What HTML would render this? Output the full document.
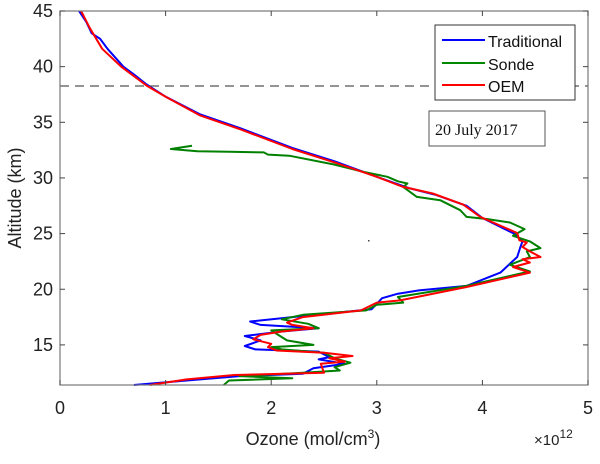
<!DOCTYPE html>
<html><head><meta charset="utf-8"><style>
body{margin:0;background:#fff;width:600px;height:459px;overflow:hidden}
svg text{font-family:"Liberation Sans",sans-serif}
</style></head><body>
<svg id="s" width="600" height="459" xmlns="http://www.w3.org/2000/svg">
<rect x="0" y="0" width="600" height="459" fill="#fff"/>
<g id="plot"></g>
<line x1="60" y1="86" x2="588" y2="86" stroke="#555" stroke-width="1.2" stroke-dasharray="9,6"/>
<rect x="368" y="240" width="1.5" height="1.5" fill="#444"/>
<rect x="60" y="11" width="528" height="374" fill="none" stroke="#777" stroke-width="1.2"/>
<g id="ticks" stroke="#444" stroke-width="1"></g>
<g font-size="18" fill="#222" id="lbl"></g>
<text x="313" y="445" font-size="18" fill="#222" text-anchor="middle">Ozone (mol/cm<tspan dy="-7" font-size="12">3</tspan><tspan dy="7">)</tspan></text>
<text x="534" y="445" font-size="15" fill="#222">×10<tspan dy="-7" font-size="12">12</tspan></text>
<text transform="translate(21,198) rotate(-90)" font-size="18" fill="#222" text-anchor="middle">Altitude (km)</text>
<rect x="435" y="25" width="140" height="75" fill="#fff" stroke="#333" stroke-width="1"/>
<line x1="442" y1="40" x2="485" y2="40" stroke="#00f" stroke-width="2"/>
<line x1="442" y1="63" x2="485" y2="63" stroke="#080" stroke-width="2"/>
<line x1="442" y1="85" x2="485" y2="85" stroke="#f00" stroke-width="2"/>
<text x="488" y="47" font-size="16" fill="#111">Traditional</text>
<text x="488" y="70" font-size="16" fill="#111">Sonde</text>
<text x="488" y="92" font-size="16" fill="#111">OEM</text>
<rect x="429" y="111" width="116" height="35" fill="#fff" stroke="#555" stroke-width="1"/>
<text x="435" y="135" font-size="16" fill="#111" style="font-family:'Liberation Serif',serif">20 July 2017</text>
</svg>
<script>
var X=v=>60+105.6*v, Y=a=>11+(45-a)*11.13;
var ns="http://www.w3.org/2000/svg";
function pl(d,c){var p=document.createElementNS(ns,"polyline");p.setAttribute("points",d.map(q=>X(q[0]).toFixed(1)+","+Y(q[1]).toFixed(1)).join(" "));p.setAttribute("fill","none");p.setAttribute("stroke",c);p.setAttribute("stroke-width","2");p.setAttribute("stroke-linejoin","round");document.getElementById("plot").appendChild(p);}
var blue=[[0.18,45],[0.25,44],[0.3,43],[0.38,42.5],[0.45,41.6],[0.6,40],[0.7,39.3],[0.82,38.4],[1.0,37.3],[1.33,35.7],[1.7,34.5],[2.2,32.7],[2.6,31.5],[3.0,30.1],[3.3,29.1],[3.55,28.5],[3.85,27.5],[4.0,26.4],[4.3,25],[4.38,24.3],[4.36,23.8],[4.33,22.9],[4.17,21.5],[3.85,20.3],[3.4,19.9],[3.2,19.6],[3.05,19.2],[2.95,18.2],[2.3,17.6],[1.8,17.1],[1.9,16.8],[2.45,16.5],[2.1,16.2],[1.75,15.8],[1.9,15.4],[1.75,14.9],[1.85,14.6],[2.45,14.4],[2.55,13.9],[2.45,13.7],[2.7,13.3],[2.4,12.9],[2.3,12.4],[1.7,12.2],[1.2,11.8],[0.7,11.4]];
var red=[[0.2,45],[0.28,43.5],[0.4,41.6],[0.58,40],[0.82,38.3],[1.0,37.3],[1.33,35.6],[1.7,34.4],[2.2,32.6],[2.6,31.4],[3.0,30.1],[3.25,29.2],[3.53,28.6],[3.82,27.6],[3.98,26.5],[4.33,25.05],[4.35,24.4],[4.42,24.2],[4.38,23.8],[4.45,23.4],[4.55,22.9],[4.38,22.7],[4.45,22.4],[4.29,22.0],[4.45,21.5],[3.85,20.2],[3.22,19.0],[3.0,18.8],[2.85,18.1],[2.3,17.5],[2.15,17],[2.2,16.8],[2.4,16.5],[2.1,16.2],[1.9,15.9],[1.83,15.5],[2.0,15.1],[1.97,14.8],[2.05,14.5],[2.5,14.3],[2.77,14.0],[2.55,13.8],[2.7,13.5],[2.47,13.3],[2.5,12.5],[1.65,12.3],[1.2,11.9],[0.85,11.4]];
var green=[[1.25,32.9],[1.05,32.6],[1.3,32.4],[1.6,32.35],[1.93,32.3],[1.97,32.1],[2.17,32.0],[2.6,31.2],[2.85,30.6],[3.1,30.1],[3.2,29.7],[3.29,29.5],[3.25,29.2],[3.38,28.3],[3.6,28.0],[3.79,27.1],[3.85,26.5],[4.05,26.3],[4.26,26.0],[4.4,25.4],[4.29,24.8],[4.45,24.3],[4.55,23.7],[4.42,23.4],[4.45,22.9],[4.26,22.2],[4.45,21.6],[3.85,20.3],[3.2,19.3],[3.25,18.8],[3.0,18.6],[2.9,18.1],[2.3,17.7],[2.1,17.3],[2.35,16.9],[2.45,16.5],[2.0,16.3],[2.1,15.7],[2.15,15.4],[2.4,15.0],[2.0,14.8],[2.1,14.6],[2.5,14.3],[2.6,13.8],[2.75,13.4],[2.6,13.0],[2.65,12.7],[2.3,12.5],[1.7,12.2],[2.2,12.0],[1.6,11.8],[1.55,11.4]];
pl(blue,"#0000ff");pl(green,"#008000");pl(red,"#ff0000");
var t=document.getElementById("ticks"),l=document.getElementById("lbl");
function ln(a,b,c,d){var e=document.createElementNS(ns,"line");e.setAttribute("x1",a);e.setAttribute("y1",b);e.setAttribute("x2",c);e.setAttribute("y2",d);t.appendChild(e);}
function tx(x,y,s,a){var e=document.createElementNS(ns,"text");e.setAttribute("x",x);e.setAttribute("y",y);e.setAttribute("text-anchor",a);e.textContent=s;l.appendChild(e);}
for(var i=0;i<=5;i++){var x=X(i);ln(x,385,x,380);ln(x,11,x,16);tx(x,414,""+i,"middle");}
for(var a=15;a<=45;a+=5){var y=Y(a);ln(60,y,65,y);ln(588,y,583,y);tx(53,y+6,""+a,"end");}
</script>
</body></html>
